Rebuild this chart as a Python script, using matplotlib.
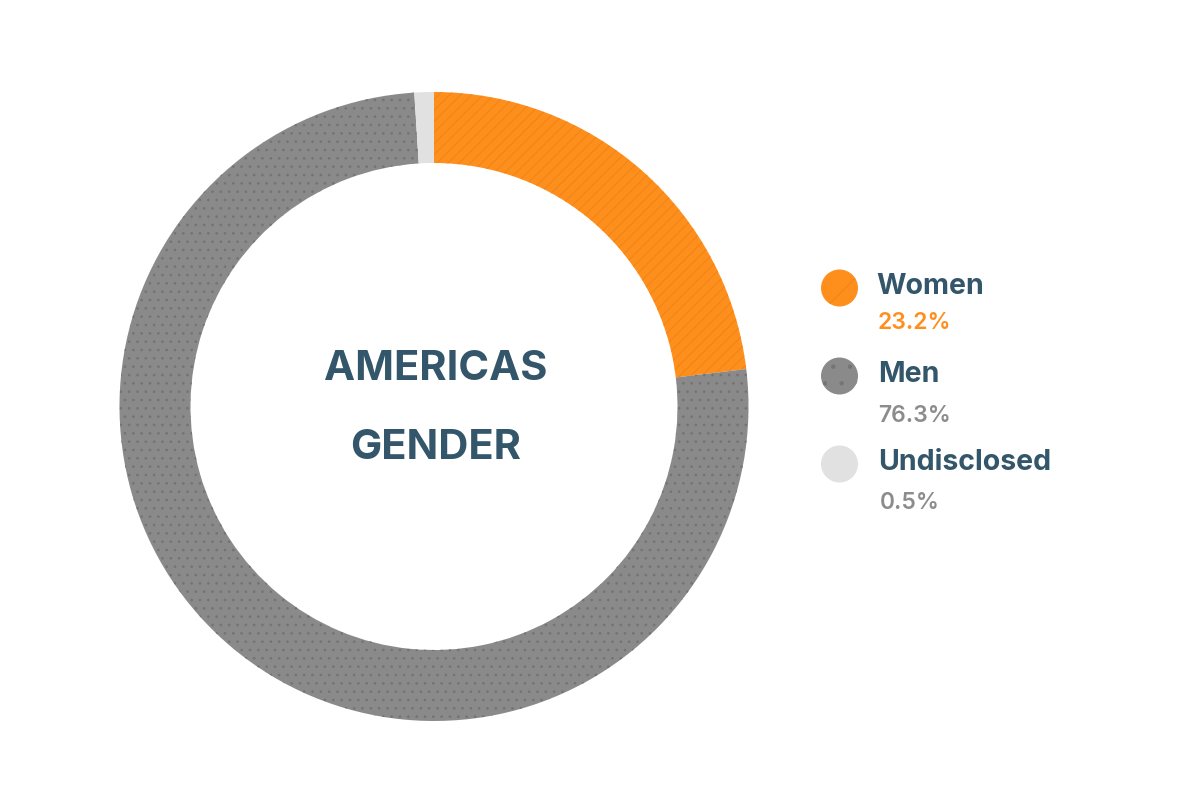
import matplotlib
matplotlib.use("Agg")
import matplotlib.pyplot as plt
from matplotlib.patches import Circle

categories = ["Women", "Men", "Undisclosed"]
value_labels = ["23.2%", "76.3%", "0.5%"]
# shares as the ring is actually drawn (the grey sliver reads about 1%)
drawn_shares = [23.1, 75.9, 1.0]

colors = ["#FF8F1C", "#8A8A8A", "#E1E1E1"]
hatch_colors = ["#EC8419", "#747474", "#E1E1E1"]
value_colors = ["#FF8F1C", "#8C8C8C", "#8C8C8C"]
ring_hatches = ["///", "..", ""]
key_hatches = ["/", ".", ""]
title_lines = ["AMERICAS", "GENDER"]
DARK = "#33566A"
W, H = 1200, 800

plt.rcParams["font.family"] = ["Inter", "DejaVu Sans"]
plt.rcParams["hatch.linewidth"] = 0.7

fig = plt.figure(figsize=(12, 8), dpi=100, facecolor="white")

# ring
ax = fig.add_axes([119.5 / W, 1 - 721 / H, 629 / W, 629 / H])
wedges, _ = ax.pie(drawn_shares, colors=colors, startangle=90, counterclock=False,
                   radius=1.0, wedgeprops=dict(width=71 / 314.5, linewidth=0))
for w, hc, h in zip(wedges, hatch_colors, ring_hatches):
    w.set_hatch(h)
    w.set_edgecolor(hc)
    w.set_linewidth(0)
ax.set_xlim(-1, 1)
ax.set_ylim(-1, 1)

# overlay in pixel coordinates for title and key
ov = fig.add_axes([0, 0, 1, 1], facecolor="none")
ov.set_xlim(0, W)
ov.set_ylim(H, 0)
ov.axis("off")

for line, y in zip(title_lines, [369, 448]):
    ov.text(435.5, y, line, ha="center", va="center", fontsize=30,
            fontweight="bold", color=DARK)

key_y = [288, 376, 464]
name_y = [286, 375, 463]
value_y = [323, 416, 503]
name_x = [876, 878, 878]
value_x = [878, 878, 880]
for name, val, c, hc, kh, vc, ky, ny, vy, nx, vx in zip(
        categories, value_labels, colors, hatch_colors, key_hatches, value_colors,
        key_y, name_y, value_y, name_x, value_x):
    ov.add_patch(Circle((839.5, ky), 18.5, facecolor=c, edgecolor=hc, hatch=kh, linewidth=0))
    ov.text(nx, ny, name, ha="left", va="center",
            fontsize=20.5, fontweight="bold", color=DARK)
    ov.text(vx, vy, val, ha="left", va="center", fontsize=16.5, color=vc, fontweight="semibold")

fig.savefig("out.png", dpi=100, facecolor="white")
